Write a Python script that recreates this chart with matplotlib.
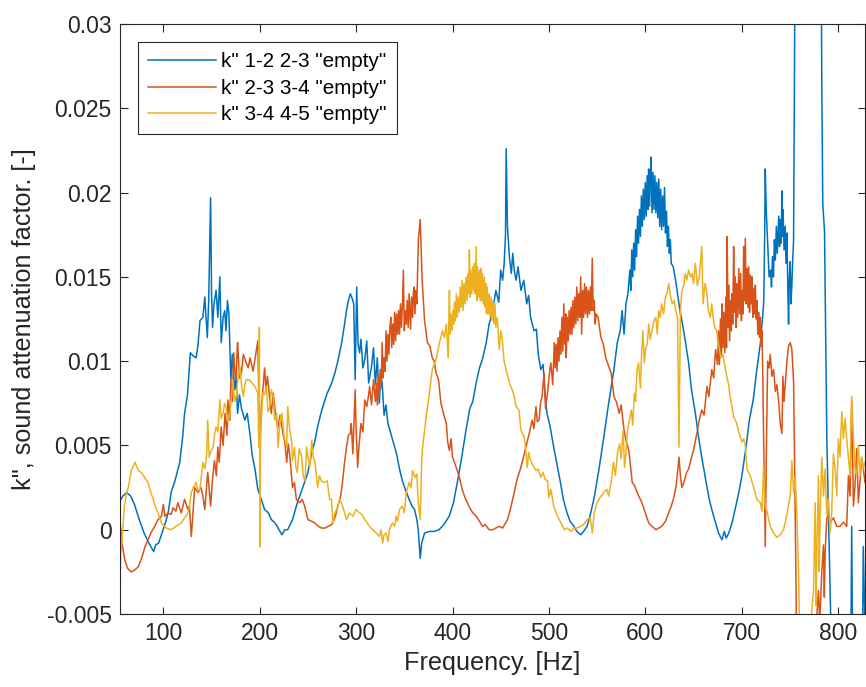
import numpy as np
import matplotlib
matplotlib.use("Agg")
import matplotlib.pyplot as plt

plt.rcParams['font.family'] = ['Liberation Sans', 'DejaVu Sans']

# k'', (frequency [Hz], k'' x 1e-3)
k12_23 = [
    (55, 1.7), (58, 2.0), (62, 2.2), (66, 2.0), (70, 1.5), (75, 0.6), (80, -0.2), (85, -0.8),
    (88, -1.1), (90, -1.3), (92, -0.9), (95, -0.8), (98, -0.3), (102, 0.4), (105, 1.0), (108, 2.2),
    (112, 2.9), (117, 4.0), (120, 5.5), (122, 6.9), (125, 8.0), (128, 10.5), (131, 10.3), (134, 10.2),
    (136, 11.0), (138, 12.4), (141, 12.6), (143, 13.8), (144.5, 12.4), (145.6, 11.4), (147, 13.5),
    (149, 19.7), (150, 14.0), (151, 12.0), (152.5, 13.4), (154.7, 14.2), (156.5, 12.6), (158.6, 15.0),
    (160, 11.1), (162, 12.6), (163.7, 13.0), (165, 11.8), (166.5, 13.6), (168, 12.8), (170, 8.9),
    (171.5, 10.4), (174, 8.3), (175.5, 9.0), (177, 6.9), (179, 8.0), (181, 7.2), (184.5, 6.5),
    (187, 6.9), (190, 5.6), (192, 4.5), (195, 3.6), (198, 2.4), (201, 1.9), (205, 1.2), (209, 1.0),
    (212, 0.6), (216, 0.4), (219, 0.1), (223, -0.3), (226, 0.0), (229, 0.0), (234, 0.6), (239, 1.6),
    (244, 2.4), (250, 3.4), (254, 4.6), (257, 5.2), (260, 6.1), (263, 6.8), (266, 7.4), (270, 8.1),
    (274, 8.6), (278, 9.3), (281, 10.0), (285, 11.1), (288, 12.2), (290, 13.0), (292, 13.6),
    (294, 14.0), (296, 13.7), (297.5, 13.4), (299, 8.9), (300.6, 14.4), (302, 11.0), (303.6, 10.5),
    (305, 11.3), (307, 9.6), (309, 10.1), (311, 11.2), (313, 8.7), (316, 9.7), (318, 10.8), (320, 8.6),
    (322, 10.2), (324, 7.5), (325.5, 9.2), (327, 8.7), (329, 6.8), (331, 7.4), (333, 6.3), (335, 5.9),
    (338, 5.3), (342, 4.5), (345, 3.6), (348, 2.9), (351, 2.4), (355, 1.8), (358, 1.4), (360.6, 1.2),
    (363, 0.6), (364.5, 0.0), (366.5, -1.7), (368, -0.8), (371, -0.2), (376, -0.1), (381, -0.1),
    (386, 0.0), (391, 0.3), (396.6, 0.8), (401, 1.6), (405, 2.8), (409, 4.1), (414, 5.9), (418, 7.2),
    (421, 7.6), (424.5, 8.7), (428, 9.6), (431, 10.1), (435, 11.1), (438, 12.2), (441, 12.8),
    (445, 14.2), (448, 13.5), (450, 15.4), (452, 14.8), (453.6, 15.8), (455, 17.5), (455.7, 22.6),
    (457, 18.0), (459, 16.2), (461, 15.2), (462.5, 16.4), (464, 15.4), (466, 14.8), (468, 15.6),
    (471, 14.2), (474, 14.8), (477, 13.4), (479, 13.9), (481, 12.6), (484.6, 11.8), (487, 11.9),
    (489, 10.4), (491.6, 9.5), (494, 9.8), (496, 8.0), (498, 6.9), (501, 6.2), (505, 4.9), (508, 4.0),
    (512, 2.8), (515, 1.8), (518.8, 1.0), (522, 0.5), (526, 0.2), (529, -0.1), (533, -0.3),
    (536, -0.1), (539.6, 0.2), (543, 0.9), (547, 1.9), (552, 3.6), (557, 5.5), (562, 7.5),
    (567.5, 9.5), (571, 11.1), (574, 11.8), (576, 13.0), (578, 11.6), (580, 13.4), (582, 14.0),
    (584, 15.4), (585, 14.2), (586, 16.6), (587, 15.0), (588, 17.0), (589, 15.4), (590, 17.8),
    (591, 16.2), (592, 18.6), (593, 17.0), (594, 19.0), (595, 17.4), (596, 19.8), (597, 18.0),
    (598, 20.2), (599, 18.4), (600, 20.6), (601, 18.6), (602, 21.0), (603, 19.0), (603.5, 21.4),
    (604.5, 19.2), (605.3, 21.0), (606, 22.1), (607, 18.8), (608, 21.2), (609, 19.0), (610, 21.0),
    (611, 18.8), (612, 20.6), (613, 18.5), (614, 20.8), (615, 18.0), (616, 20.2), (617, 17.8),
    (618, 19.8), (619, 18.0), (620, 20.3), (621, 17.6), (622, 18.9), (623, 16.8), (624, 18.0),
    (625, 16.4), (626, 17.2), (627, 15.8), (629, 15.6), (631.5, 14.8), (634, 13.8), (636, 13.0),
    (638, 12.4), (641, 11.4), (645, 9.9), (648, 8.3), (652, 6.9), (655, 5.6), (658.6, 4.3),
    (662, 3.2), (666, 1.9), (669, 1.2), (673, 0.4), (676, -0.2), (679.6, -0.6), (682, -0.1),
    (684, -0.5), (686.6, -0.2), (690, 0.4), (693.6, 1.3), (697, 2.2), (700, 3.1), (703, 4.3),
    (705, 5.1), (708, 6.5), (712, 7.7), (716, 9.6), (719.5, 11.1), (722, 12.8), (723, 13.6),
    (724, 18.0), (724.5, 21.4), (725.5, 19.0), (727, 17.0), (728.5, 15.0), (730, 15.4), (731, 14.4),
    (732, 16.2), (733, 15.0), (734, 17.2), (735, 16.0), (736, 18.0), (737, 16.4), (738.5, 18.6),
    (739.3, 16.8), (740, 18.4), (741, 17.0), (741.8, 20.1), (742.5, 17.4), (743, 19.0), (744, 16.6),
    (745.2, 18.0), (746, 15.8), (747, 17.6), (748, 14.0), (748.7, 12.2), (749.5, 15.0), (750.4, 15.9),
    (751.2, 13.4), (752.1, 14.5), (753, 16.0), (753.9, 17.2), (756, 40.0), (770, 70.0),
    (782, 40.0), (783.2, 26.2), (784.2, 19.3), (786, 17.7), (788.4, 5.4), (792.5, -5.5), (795, -12.0),
    (805, -20.0), (813, -10.0), (814.2, 0.2), (815.5, -10.0), (825, -10.0), (826.2, -1.0), (828, -6.0),
]

k23_34 = [
    (55, 0.5), (57, -0.8), (60, -1.8), (63, -2.3), (66.6, -2.5), (70, -2.4), (74, -2.2), (78, -1.6),
    (81, -1.0), (84, -0.6), (87, -0.2), (91, 0.2), (94.5, 0.6), (98, 0.8), (100, 1.5), (101.5, 0.8),
    (105, 1.0), (108, 0.9), (110, 1.3), (113, 1.1), (115, 1.6), (118.5, 1.0), (122, 1.8),
    (125.5, 1.2), (127, 1.4), (129, -0.4), (130.5, 0.8), (132.5, 2.5), (136, 2.2), (139, 2.5),
    (141, 2.0), (143, 1.2), (146, 3.4), (149, 1.4), (151, 3.0), (153, 4.1), (155, 3.2), (156.5, 4.9),
    (158, 4.0), (160, 6.1), (162, 5.0), (164, 6.9), (166, 5.6), (167, 7.7), (169, 6.5), (170, 8.9),
    (171.5, 7.6), (173, 10.5), (174.5, 9.2), (175.6, 8.9), (176.5, 10.6), (177, 11.1), (179, 9.0),
    (181, 9.3), (183, 10.4), (186, 9.9), (188, 9.6), (190, 10.2), (193, 9.4), (195, 10.1),
    (198, 11.2), (199, 8.0), (200, 4.9), (201.5, 7.2), (203, 8.1), (205, 9.6), (206.5, 8.4),
    (208, 9.1), (210, 8.0), (212, 6.9), (214, 8.1), (215.6, 7.3), (217, 6.6), (219, 6.1), (221, 6.8),
    (224, 5.7), (226, 5.2), (228, 4.0), (229.5, 5.1), (231, 4.5), (233, 3.2), (234, 2.5), (236, 2.8),
    (238, 1.8), (241.5, 1.6), (244, 1.8), (246.6, 1.4), (250, 0.6), (254, 0.5), (257, 0.4),
    (261, 0.2), (264, 0.1), (268, 0.1), (271, 0.2), (274.6, 0.3), (278, 0.7), (281, 1.4), (284, 2.0),
    (286, 2.9), (288, 4.0), (290, 4.9), (292, 5.6), (294, 5.7), (295, 6.3), (296.6, 4.5), (299, 8.3),
    (300, 6.0), (301.6, 3.7), (303, 5.0), (305, 6.3), (307, 5.8), (309, 7.7), (311, 7.3), (313, 8.0),
    (314, 8.5), (316, 7.4), (318, 8.9), (320, 7.6), (321, 8.7), (322, 7.4), (323, 9.2), (324, 8.0),
    (325, 9.5), (326, 8.4), (327, 11.1), (328, 9.0), (329, 10.2), (330, 9.4), (331, 11.8), (332, 10.0),
    (333, 11.6), (334, 10.4), (335, 12.0), (336, 12.6), (337, 10.8), (338, 12.2), (339, 11.0),
    (340, 12.9), (341, 11.2), (342, 12.8), (343, 11.6), (344, 13.0), (345, 11.6), (346, 13.4),
    (347, 12.0), (348, 13.2), (349, 15.4), (350, 11.8), (351, 13.0), (352, 12.2), (353, 13.6),
    (354, 12.0), (355, 14.0), (356, 12.6), (356.5, 11.9), (357.5, 13.8), (358.6, 12.6), (359.3, 14.0),
    (360, 14.4), (361, 12.8), (362, 14.2), (363, 13.4), (364.6, 17.2), (366.5, 18.4), (368.5, 14.8),
    (371, 12.4), (374, 11.1), (376.5, 10.9), (379, 10.2), (381, 10.0), (383, 9.3), (385.5, 8.9),
    (388, 7.5), (391, 6.8), (393.6, 6.3), (395, 5.2), (396.8, 4.7), (398.5, 5.4), (400, 4.3),
    (402, 4.0), (405, 3.5), (408, 2.9), (410, 2.4), (413, 1.9), (417, 1.4), (421, 1.0), (424.6, 0.8),
    (428, 0.5), (431, 0.2), (434, 0.3), (438, 0.0), (442, 0.0), (445, 0.1), (448.5, 0.2), (452, 0.1),
    (457, 0.6), (460, 1.2), (464, 2.2), (467, 3.0), (471, 3.7), (474, 4.4), (477, 5.1), (480, 5.8),
    (482.6, 6.5), (484.5, 6.0), (486.6, 7.3), (488, 6.4), (489.8, 6.5), (491.5, 7.6), (493, 7.9),
    (495, 9.3), (496.5, 7.2), (498.6, 8.1), (500, 9.0), (502, 9.9), (504, 8.6), (505.6, 11.1),
    (506.5, 9.6), (507.5, 11.0), (508.5, 9.4), (509.5, 11.4), (510.5, 10.0), (511.5, 11.8),
    (512.5, 10.4), (513.5, 12.6), (514.5, 10.6), (515.5, 13.4), (516.5, 11.0), (517.5, 12.8),
    (518, 10.2), (519, 12.6), (520, 11.2), (521, 13.0), (522, 11.6), (523, 13.2), (524, 11.6),
    (525, 13.6), (526, 12.0), (527, 13.8), (528, 12.2), (529, 14.4), (530, 12.4), (531, 14.0),
    (532, 12.6), (533, 15.0), (534, 11.6), (535, 14.2), (536, 12.6), (537, 14.6), (538, 12.8),
    (539, 14.4), (540, 12.6), (541, 14.2), (542, 12.8), (543, 14.4), (544, 13.0), (545, 16.1),
    (546, 13.0), (547, 13.6), (548, 12.2), (549, 12.8), (551, 12.6), (554, 11.4), (556.5, 11.0),
    (559, 10.2), (562, 9.7), (564.6, 9.3), (567.5, 7.9), (570, 7.6), (573, 6.9), (575, 7.4),
    (578, 5.9), (580, 5.3), (583, 4.7), (585, 3.6), (586.5, 2.8), (589, 2.6), (591.6, 2.2),
    (594, 1.9), (596.5, 1.6), (600, 1.0), (603.6, 0.4), (607, 0.2), (611, 0.0), (614, 0.1),
    (617, 0.2), (621, 0.5), (624.4, 1.0), (627, 1.4), (629.6, 1.9), (632, 2.6), (633, 3.1),
    (635, 4.3), (636.5, 3.2), (638, 2.5), (640, 2.8), (643, 3.4), (645, 3.6), (648, 4.3), (650, 4.7),
    (653.5, 5.7), (656, 6.5), (658.6, 7.1), (661, 6.8), (664, 8.5), (666, 7.9), (669, 9.5), (671, 9.0),
    (673, 10.7), (675, 9.8), (676, 11.8), (677, 9.8), (678, 12.5), (679, 10.4), (679.6, 13.4),
    (680.5, 10.8), (681.5, 12.9), (682.5, 10.5), (683.6, 13.8), (684.3, 10.8), (685, 17.4),
    (685.8, 12.0), (686.5, 14.5), (687.5, 11.2), (688.5, 13.6), (689.3, 11.8), (690, 14.0),
    (690.8, 12.2), (691.7, 16.8), (692.5, 12.9), (693.3, 15.0), (694.2, 12.0), (695, 14.6),
    (696, 12.6), (697, 15.5), (698, 12.8), (699, 15.2), (699.8, 12.4), (700.5, 14.2), (701.3, 12.8),
    (702.1, 16.8), (703, 13.6), (703.8, 17.3), (704.7, 13.4), (705.6, 15.5), (706.5, 13.2),
    (707.3, 15.6), (708.2, 12.9), (709, 15.1), (710, 13.4), (710.7, 15.0), (711.6, 12.6),
    (712.5, 14.3), (713.4, 12.8), (714.2, 14.5), (715, 12.5), (715.9, 13.6), (716.8, 11.6),
    (717.6, 12.9), (718.5, 11.4), (719.4, 12.6), (720.3, 10.9), (721.1, 11.8), (722, 9.0),
    (722.8, 5.4), (723.5, 3.2), (724.5, -1.0), (725.6, 4.3), (727, 10.0), (728.5, 9.6), (729.7, 10.4),
    (731.4, 9.1), (733.2, 9.5), (735, 8.2), (736.6, 8.6), (738.3, 7.7), (740.1, 6.3), (741.8, 5.7),
    (742.8, 9.1), (744, 7.6), (745.2, 8.6), (747, 10.0), (748.7, 10.9), (750.4, 11.1), (752.1, 10.7),
    (753.9, 8.8), (755.6, 0.9), (757.3, -8.0), (770, -15.0), (777, -6.0), (779.7, -3.6), (781, -5.5),
    (783.2, -2.5), (784.9, -0.9), (785.8, -4.0), (786.6, -1.4), (788.4, 0.7), (790.1, 0.9),
    (791.8, 0.45), (795.2, 0.7), (798.7, 0.2), (802.1, 0.2), (805.6, 0.45), (809, 0.2), (810.8, 3.2),
    (812.5, 2.0), (814.2, 7.7), (816, 1.4), (817.5, 2.5), (819.4, 4.8), (821.1, 1.6), (823, 3.0),
    (824.6, 4.3), (826.3, 3.6), (828, 2.8),
]

k34_45 = [
    (55, -3.4), (55.8, -1.4), (57.5, -0.2), (59.5, 1.4), (62, 2.2), (63.6, 2.5), (66.6, 3.5),
    (70.7, 4.0), (72, 3.8), (74, 3.5), (77, 3.4), (80.5, 3.1), (84, 2.8), (87, 2.2), (89, 1.9),
    (91.4, 1.4), (94.5, 1.0), (98, 0.4), (103, 0.1), (108, 0.0), (113, 0.2), (118.5, 0.4), (122, 0.7),
    (125.5, 1.0), (127, 1.4), (129, 2.2), (131, 2.5), (134, 2.8), (136, 2.3), (138, 2.4), (141, 4.0),
    (143, 3.6), (145, 4.5), (146, 6.5), (147.5, 4.3), (149, 4.6), (151.6, 4.9), (153, 5.6),
    (154.6, 6.1), (156.5, 5.8), (158.6, 7.7), (160, 6.6), (162, 6.9), (163.5, 7.5), (165, 7.3),
    (167, 6.4), (169, 6.9), (170.5, 7.8), (172, 8.9), (174, 7.6), (175.5, 7.9), (177, 8.8),
    (179.5, 9.7), (181, 8.6), (183, 7.9), (184.5, 8.6), (186, 8.9), (189, 8.9), (192, 8.7), (195, 8.5),
    (198, 8.1), (199, 4.9), (199.6, 12.0), (200.2, -1.0), (201, 5.5), (203, 8.1), (205, 8.0),
    (207, 8.5), (208.5, 7.0), (210.5, 7.3), (212, 8.3), (214, 7.9), (215.5, 6.5), (217.6, 6.9),
    (219, 4.9), (221, 6.5), (223, 6.9), (225, 5.6), (228, 4.9), (229, 7.3), (231, 6.0), (233, 5.3),
    (234, 4.1), (236, 4.9), (237.5, 3.7), (239, 3.4), (241, 4.8), (243.5, 4.3), (245, 3.2),
    (247, 2.9), (248.6, 4.9), (250, 4.3), (252, 3.7), (254, 5.3), (255.5, 4.3), (257, 4.1),
    (258.5, 3.4), (260, 2.5), (262, 3.2), (264, 2.9), (267, 2.8), (270, 2.9), (272.5, 1.8),
    (274.5, 1.8), (276, 0.4), (278, 1.0), (280, 1.2), (283, 1.8), (286, 1.4), (288, 1.0), (290, 0.6),
    (293, 1.0), (296.6, 0.8), (300, 1.2), (303.6, 1.0), (306, 0.9), (309, 0.6), (314, 0.2),
    (317, 0.0), (321, -0.2), (324, -0.4), (326, 0.0), (327.5, -0.8), (329, -0.3), (331, -0.2),
    (333, -0.7), (334.5, 0.0), (337.6, 0.4), (340, 0.2), (341.5, 0.8), (343, 0.5), (345, 1.2),
    (348, 1.4), (350, 1.0), (352, 2.2), (355, 2.8), (357, 2.5), (358.6, 3.5), (361, 3.1), (363, 3.3),
    (364.5, 1.6), (366.5, 0.6), (368, 4.0), (368.6, 4.7), (372.7, 6.7), (376, 8.1), (379, 9.5),
    (383, 10.1), (386.5, 11.1), (389.6, 11.8), (391.5, 11.4), (393.6, 12.2), (395.5, 10.2),
    (396.8, 14.2), (397.5, 11.6), (398.5, 12.8), (399.5, 11.8), (400.5, 13.0), (401.3, 12.2),
    (402, 13.5), (403, 12.4), (404, 14.0), (405, 12.6), (406, 13.8), (407, 12.9), (408, 14.4),
    (409, 13.2), (410, 14.8), (411, 13.0), (412, 14.6), (413, 13.4), (414, 15.0), (415, 13.6),
    (416, 15.2), (417, 14.0), (417.5, 16.6), (418.3, 13.8), (419, 15.4), (420, 14.0), (421, 15.6),
    (422, 14.2), (422.7, 15.8), (423.6, 14.0), (424.6, 16.8), (425.3, 13.6), (426, 15.6), (427, 13.8),
    (428, 15.4), (429, 13.6), (429.5, 15.5), (430.3, 13.6), (431, 15.2), (432, 13.4), (433, 15.0),
    (434, 13.2), (434.5, 14.6), (435.3, 12.8), (436, 14.4), (437, 12.8), (438, 14.0), (439, 12.6),
    (440, 13.8), (441, 12.4), (442, 13.6), (443, 12.2), (444, 13.4), (445, 12.0), (446.5, 12.6),
    (448.5, 10.7), (450, 11.8), (451.5, 11.4),
    (453.5, 10.0), (455.6, 9.5), (457, 9.2), (459, 8.7), (462, 8.3), (464, 7.9), (466, 7.3),
    (469, 7.1), (471, 5.9), (474.5, 5.5), (476, 4.7), (477.6, 3.7), (479, 4.6), (481, 4.1),
    (484.6, 3.7), (487, 3.5), (489, 3.6), (491.6, 3.1), (494, 3.4), (496, 3.0), (498.6, 2.9),
    (500, 1.9), (502, 2.4), (505, 1.4), (509, 0.8), (512.5, 0.4), (516, 0.0), (519, 0.1),
    (523, -0.1), (526, 0.1), (529, 0.1), (533, 0.2), (536, 0.3), (539.6, 0.6), (543, 0.7),
    (545, -0.2), (547, 1.0), (550, 1.6), (553, 1.9), (557, 2.2), (560, 2.4), (562, 2.0), (564.6, 2.8),
    (567, 4.0), (569, 3.2), (571.5, 4.7), (573.5, 5.1), (575, 4.2), (577, 5.9), (578.5, 3.7),
    (580, 4.6), (581.6, 5.9), (583.5, 6.5), (585.6, 7.1), (587, 6.2), (588.7, 8.1), (590, 7.6),
    (591.5, 9.5), (593, 9.9), (595, 8.4), (596, 10.2), (597.6, 11.8), (599, 9.9), (600.5, 10.8),
    (602, 11.0), (603.6, 12.2), (605, 11.3), (607, 11.8), (609, 12.4), (611, 12.6), (612.5, 11.6),
    (614, 13.0), (615.5, 12.6), (617, 13.4), (619, 12.8), (621, 13.8), (622.5, 14.0), (624.4, 14.6),
    (626, 13.9), (628, 13.4), (630, 13.6), (631.6, 13.0), (633.5, 12.6), (635, 4.9), (636.5, 13.0),
    (638, 14.2), (640, 14.5), (641.5, 15.2), (643, 14.8), (645, 15.4), (647, 15.0), (648.5, 15.2),
    (650, 14.6), (652, 15.8), (654, 14.5), (656, 15.0), (658.6, 16.8), (660, 13.4), (662, 14.6),
    (663.6, 14.2), (665.5, 13.0), (667.5, 12.6), (669, 13.4), (670.4, 12.6), (672, 12.0),
    (674, 11.8), (676, 11.0), (678.5, 10.2), (680.5, 10.4), (682, 9.9), (684.6, 9.1), (686.5, 8.6),
    (688, 7.9), (690, 7.3), (691.7, 6.7), (695, 6.3), (697, 5.8), (698.8, 5.5), (700.5, 5.2),
    (702.1, 5.4), (703.8, 5.0), (705.6, 3.6), (709, 3.2), (712.5, 2.5), (715.9, 1.8), (719.4, 1.6),
    (721.1, 1.1), (722.8, 3.8), (724.5, 1.3), (726.3, 1.1), (729.7, 0.2), (733.2, -0.2),
    (736.6, -0.45), (740.1, -0.3), (743.5, 0.0), (747, 0.9), (750.4, 2.0), (752.1, 4.1), (753.9, 2.2),
    (755.6, 3.2), (757.3, 0.9), (759, -2.5), (760.8, -8.0), (771, -7.0), (772.5, -5.0), (774.6, -3.6),
    (776.3, 1.6), (777.2, -4.5), (778, -1.4), (779.7, 3.2), (780.5, -2.5), (781.5, 0.9), (783.2, 4.3),
    (784.9, 2.0), (786.6, 3.6), (788.4, 0.9), (790.1, 1.8), (791.8, -0.2), (793.5, 1.1), (795.2, 4.5),
    (797, 3.6), (798.7, 2.0), (800.4, 5.4), (802.1, 4.3), (803.9, 7.0), (805.6, 5.4), (807.3, 6.6),
    (809, 5.4), (812.5, 3.2), (814.2, 7.9), (816, 5.4), (817.7, 3.6), (819.4, 3.2), (821.1, 5.0),
    (822.8, 3.2), (824.6, 4.3), (826.3, 3.6), (828, 4.0),
]

series = [
    (k12_23, 'k" 1-2 2-3 "empty"', '#0072BD'),
    (k23_34, 'k" 2-3 3-4 "empty"', '#D95319'),
    (k34_45, 'k" 3-4 4-5 "empty"', '#EDB120'),
]

x_ticks = [100, 200, 300, 400, 500, 600, 700, 800]
y_ticks = [-0.005, 0, 0.005, 0.01, 0.015, 0.02, 0.025, 0.03]
y_ticklabels = ['-0.005', '0', '0.005', '0.01', '0.015', '0.02', '0.025', '0.03']

fig = plt.figure(figsize=(8.66, 6.87), dpi=100)
ax = fig.add_axes([120 / 866, 73 / 687, 745 / 866, 590 / 687])

for pts, label, color in series:
    f, k = np.array(pts).T
    ax.plot(f, k * 1e-3, color=color, linewidth=1.1, label=label)

axis_color = '#262626'
ax.set_xlim(55, 828)
ax.set_ylim(-0.005, 0.03)
ax.set_xticks(x_ticks)
ax.set_yticks(y_ticks)
ax.set_yticklabels(y_ticklabels)
ax.tick_params(direction='in', length=5.4, width=0.8, top=True, right=True,
               labelsize=16.5, colors=axis_color, pad=6)
for s in ax.spines.values():
    s.set_color(axis_color)
    s.set_linewidth(0.8)

ax.set_xlabel('Frequency. [Hz]', fontsize=18.2, color=axis_color, labelpad=4)
ax.set_ylabel('k", sound attenuation factor. [-]', fontsize=18.2, color=axis_color, labelpad=8)

leg = ax.legend(loc='upper left', bbox_to_anchor=(0.024, 0.9695), borderaxespad=0,
                fontsize=14.85, handlelength=3.3, handletextpad=0.25, labelspacing=0.36,
                borderpad=0.5, fancybox=False, framealpha=1)
leg.get_frame().set_edgecolor(axis_color)
leg.get_frame().set_linewidth(0.8)
for line in leg.get_lines():
    line.set_linewidth(1.1)
for t in leg.get_texts():
    t.set_color('black')

fig.savefig('out.png', dpi=100)
